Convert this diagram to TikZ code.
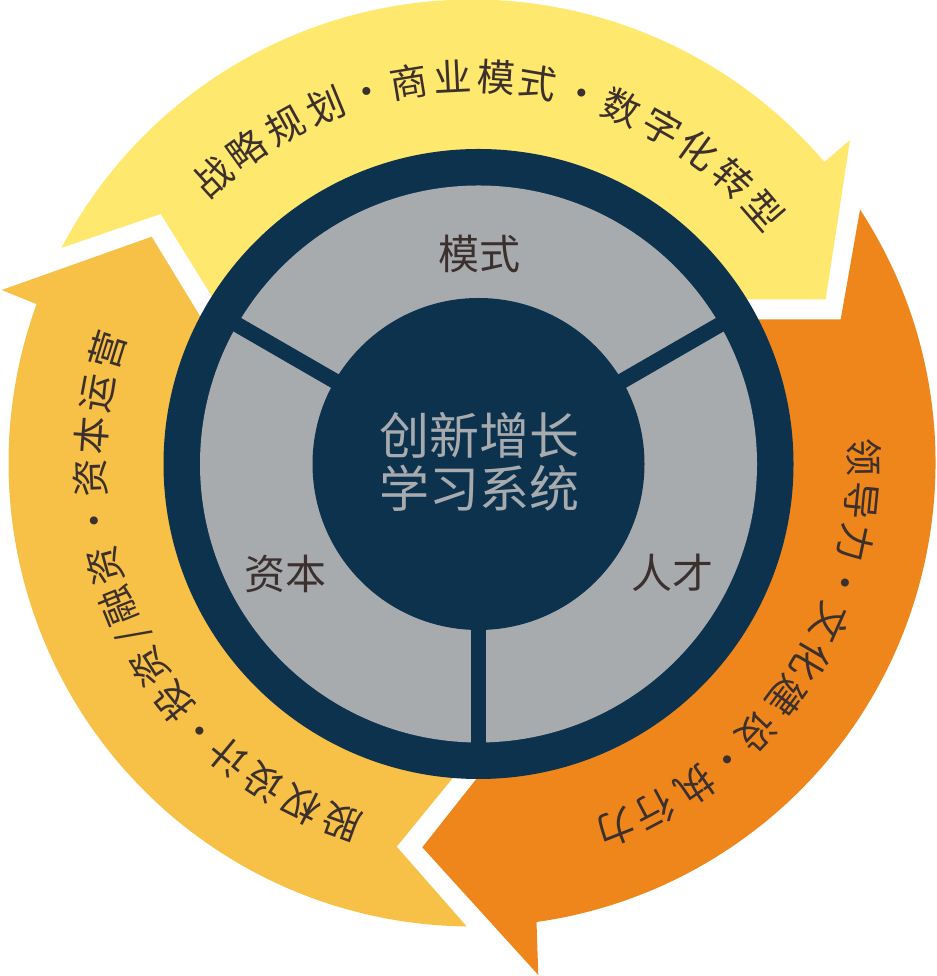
\documentclass[tikz,border=0pt]{standalone}
\usepackage{fontspec}
\setmainfont{Noto Sans CJK SC}
\usetikzlibrary{calc}
\definecolor{cnavy}{RGB}{12,50,78}
\definecolor{cgray}{RGB}{168,171,174}
\definecolor{cyellow}{RGB}{254,232,110}
\definecolor{clorange}{RGB}{247,192,70}
\definecolor{corange}{RGB}{239,134,28}
\definecolor{ctext}{RGB}{59,48,46}
\tikzset{
  bandtext/.style={font=\fontsize{38}{38}\selectfont, text=ctext, inner sep=0pt, text height=33.4pt, text depth=4.6pt, anchor=center},
  ringtext/.style={font=\fontsize{41}{41}\selectfont, text=ctext, inner sep=0pt, text height=36.1pt, text depth=4.9pt, anchor=center},
  coretext/.style={font=\fontsize{50}{50}\selectfont, text=cgray, inner sep=0pt, text height=44pt, text depth=6pt, anchor=center},
  spoke/.style={draw=cnavy, line width=15.5pt}
}
\begin{document}
\begin{tikzpicture}[x=1pt,y=1pt]
\useasboundingbox (0,0) rectangle (936,976);
\coordinate (O) at (472,513);
\coordinate (D) at (478.5,512);
% yellow arrow (top)
\fill[cyellow] ($(O)+(152.35:463.5)$) arc[start angle=152.35, end angle=40.5, radius=463.5]
  -- (850,836) -- (825.7,676.7) -- (700,676.7) -- (242.3,630.8) -- (160.7,762) -- cycle;
% orange arrow (right)
\fill[corange] ($(O)+(33.15:463.5)$) arc[start angle=33.15, end angle=-82, radius=463.5]
  -- (538.3,1) -- (422.3,128.7) -- (529.7,264.7) -- (720,656.7) -- (840.7,656.7) -- cycle;
% light orange arrow (left)
\fill[clorange] ($(O)+(269.35:463.5)$) arc[start angle=269.35, end angle=159.96, radius=463.5]
  -- (1.7,686) -- (151.7,739.3) -- (248.3,580.7) -- (506.7,264.1) -- (396.7,129.3) -- cycle;
% central wheel
\fill[cnavy] (D) circle[radius=315];
\fill[cgray] (D) circle[radius=278.5];
\fill[cnavy] (D) circle[radius=166];
\coordinate (s1) at ($(D)+(270:290)$);
\coordinate (s2) at ($(D)+(150:290)$);
\coordinate (s3) at ($(D)+(30:290)$);
\path[spoke] (D) -- (s1);
\path[spoke] (D) -- (s2);
\path[spoke] (D) -- (s3);
% ring labels
\node[ringtext] (mode) at (479,722) {模式};
\node[ringtext] (capital) at (285.5,402.5) {资本};
\node[ringtext] (talent) at (672,403) {人才};
% core text
\node[coretext] (core1) at (479.4,540.3) {创新增长};
\node[coretext] (core2) at (479,487) {学习系统};
% band texts
\foreach \a/\c [count=\i] in {132.2/战,125.68/略,119.0/规,112.3/划,105.8/·,99.4/商,92.9/业,86.4/模,80.2/式,73.5/·,67.2/数,60.5/字,54.1/化,47.5/转,40.9/型}
  \node[bandtext, rotate=\a-90] (y\i) at ($(O)+(\a:386)$) {\c};
\foreach \a/\c [count=\i] in {0.9/领,-5.6/导,-11.8/力,-17.9/·,-24.0/文,-30.3/化,-36.6/建,-43.3/设,-49.3/·,-55.4/执,-62.2/行,-68.5/力}
  \node[bandtext, rotate=\a-90] (o\i) at ($(O)+(\a:392)$) {\c};
\foreach \a/\c [count=\i] in {250.1/股,243.5/权,236.9/设,230.4/计,224.6/·,218.6/投,212.3/资,207.0/\symbol{"002F},202.0/融,195.6/资,188.8/·,182.3/资,175.8/本,169.4/运,162.8/营}
  \node[bandtext, rotate=\a-90] (l\i) at ($(O)+(\a:382)$) {\c};
\end{tikzpicture}
\end{document}
